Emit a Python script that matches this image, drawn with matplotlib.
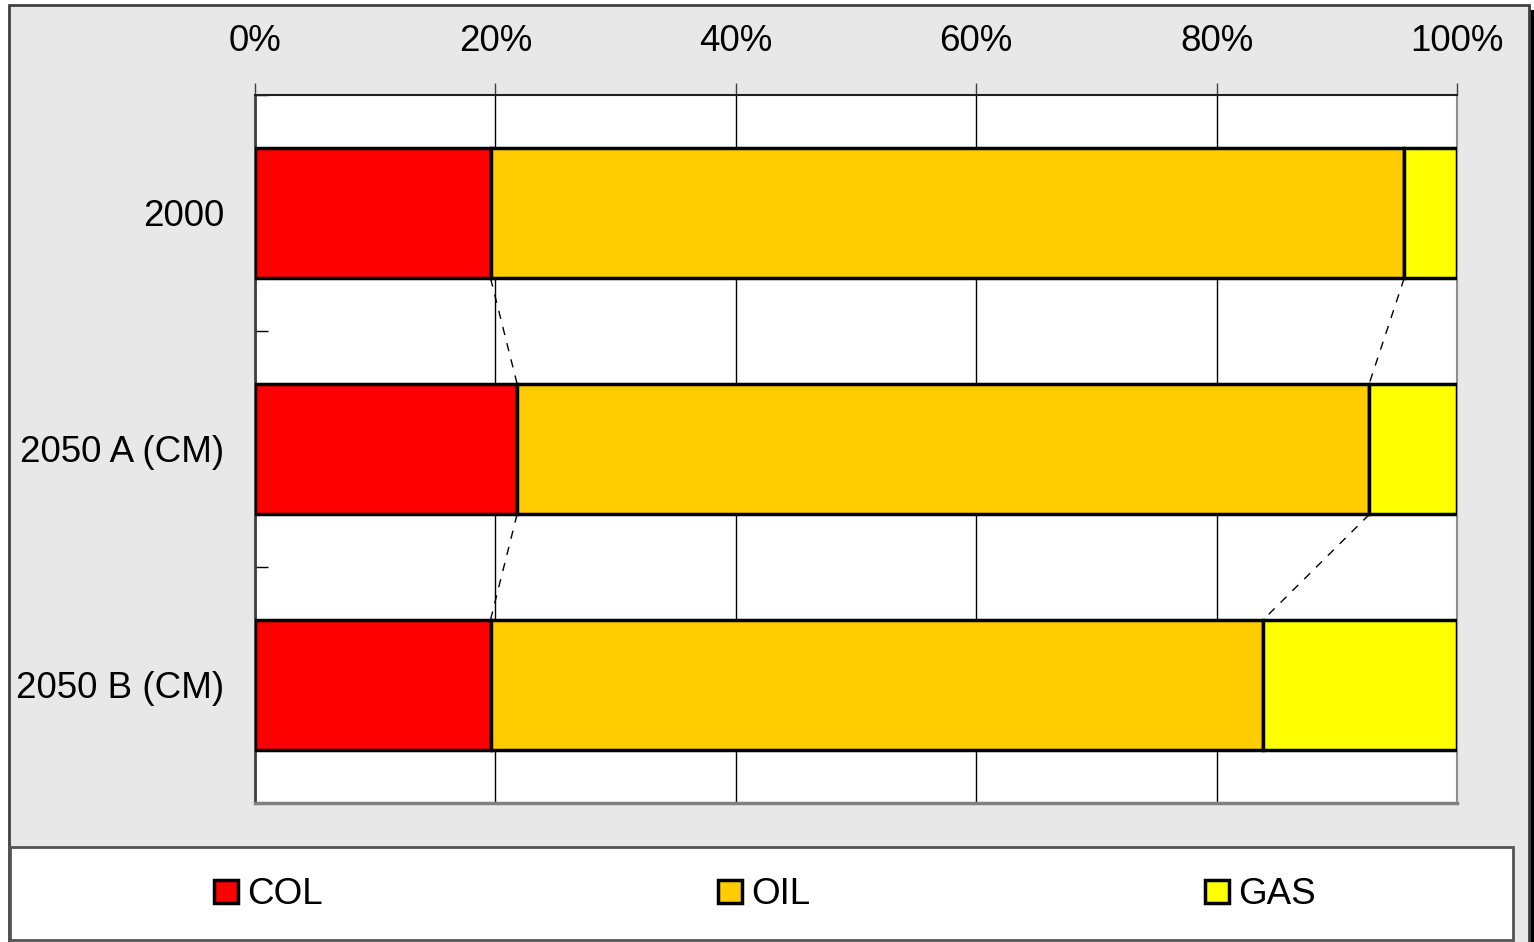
import matplotlib.pyplot as plt
from matplotlib.patches import Rectangle

# data (percent shares)
categories = ["2000", "2050 A (CM)", "2050 B (CM)"]
series_names = ["COL", "OIL", "GAS"]
col_share = [19.6, 21.8, 19.6]
oil_share = [76.0, 70.9, 64.3]
gas_share = [4.4, 7.3, 16.1]
pct_ticks = [0, 20, 40, 60, 80, 100]
pct_labels = ["0%", "20%", "40%", "60%", "80%", "100%"]

colors = ["#FF0000", "#FFCC00", "#FFFF00"]

W, H = 1534, 942
plt.rcParams['font.family'] = ['Liberation Sans', 'DejaVu Sans']

fig = plt.figure(figsize=(W / 100, H / 100), dpi=100, facecolor="white")

# grey chart frame + black shadow on right
fig.add_artist(Rectangle((1528 / W, 0), 6 / W, (H - 10) / H, transform=fig.transFigure,
                         facecolor="black", edgecolor="none", zorder=-11))
fig.add_artist(Rectangle((9 / W, -0.01), (1529 - 9) / W, 1.01 - 5 / H, transform=fig.transFigure,
                         facecolor="#E8E8E8", edgecolor="#404040", linewidth=2, zorder=-10))
# legend box
fig.add_artist(Rectangle((10 / W, 1 - 940 / H), (1513 - 10) / W, (940 - 847) / H,
                         transform=fig.transFigure, facecolor="white",
                         edgecolor="#555555", linewidth=2, zorder=-5))

ax = fig.add_axes([255 / W, 1 - 803 / H, (1457 - 255) / W, (803 - 95) / H])
ax.set_facecolor("white")

ypos = list(range(len(categories)))
bar_h = 0.555
series = [col_share, oil_share, gas_share]
left = [0.0] * len(categories)
bounds = []
for name, vals, c in zip(series_names, series, colors):
    ax.barh(ypos, vals, height=bar_h, left=left, color=c, edgecolor="black",
            linewidth=2.5, label=name, zorder=3)
    left = [l + v for l, v in zip(left, vals)]
    bounds.append(list(left))

# series lines between bars
for b in bounds:
    for i in range(len(categories) - 1):
        ax.plot([b[i], b[i + 1]], [ypos[i] + bar_h / 2, ypos[i + 1] - bar_h / 2],
                color="black", linewidth=1, linestyle=(0, (6, 6)), zorder=2)

ax.set_xlim(0, 100)
ax.set_ylim(len(categories) - 0.5, -0.5)

ax.xaxis.tick_top()
ax.set_xticks(pct_ticks)
ax.set_xticklabels(pct_labels)
ax.tick_params(axis="x", direction="out", length=9, width=1, color="#404040",
               labelsize=26.5, pad=17)
ax.grid(axis="x", color="black", linewidth=1, zorder=1)

ax.set_yticks(ypos)
ax.set_yticklabels(categories)
ax.set_yticks([-0.5, 0.5, 1.5, 2.5], minor=True)
ax.tick_params(axis="y", which="major", length=0, labelsize=26.5, pad=22)
ax.tick_params(axis="y", which="minor", direction="in", length=9, width=1, color="black")
for lbl in ax.get_yticklabels():
    lbl.set_y(lbl.get_position()[1])

ax.spines["top"].set_color("#202020")
ax.spines["top"].set_linewidth(1.5)
ax.spines["left"].set_color("#404040")
ax.spines["left"].set_linewidth(2)
ax.spines["right"].set_color("#909090")
ax.spines["right"].set_linewidth(1.5)
ax.spines["bottom"].set_color("#808080")
ax.spines["bottom"].set_linewidth(2.5)

x0, x1 = 214 / W, 1316 / W
fig.legend(loc="center", bbox_to_anchor=(x0, 1 - 915 / H, x1 - x0, 40 / H), mode="expand",
           ncol=3, frameon=False, fontsize=26.5, handlelength=0.65, handleheight=0.6,
           handletextpad=0.25, borderaxespad=0, borderpad=0)

fig.savefig("out.png", dpi=100, facecolor="white")
